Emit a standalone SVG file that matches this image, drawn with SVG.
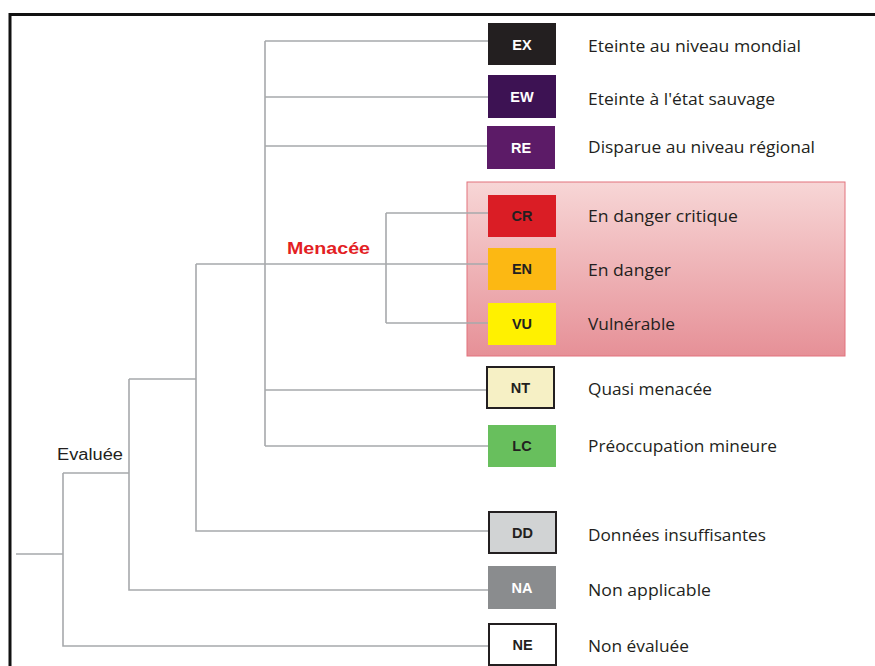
<svg xmlns="http://www.w3.org/2000/svg" width="875" height="666" viewBox="0 0 875 666">
<defs>
<linearGradient id="pink" x1="0" y1="0" x2="0" y2="1">
<stop offset="0" stop-color="#f7d6d6"/>
<stop offset="1" stop-color="#e69097"/>
</linearGradient>
<style>
.ln{stroke:#a7a9ac;stroke-width:1.6;fill:none}
.code{font-family:"Liberation Sans",Arial,sans-serif;font-weight:bold;font-size:14.5px;text-anchor:middle;fill:#231f20}
.w{fill:#ffffff}
.desc{font-family:"Open Sans","Liberation Sans",sans-serif;font-size:15.5px;fill:#231f20}
.bx{stroke:#231f20;stroke-width:2}
</style>
</defs>
<rect x="0" y="0" width="875" height="666" fill="#ffffff"/>
<rect x="10" y="14.5" width="880" height="670" fill="none" stroke="#111111" stroke-width="3"/>
<rect x="467" y="182" width="378" height="174" fill="url(#pink)" stroke="#e2727c" stroke-width="1"/>
<g id="connectors">
<path class="ln" d="M265,41 V446 M265,41 H488 M265,97 H488 M265,146 H488 M265,390 H488 M265,446 H488"/>
<path class="ln" d="M196,264 H488 M386,213 V323 M386,213 H488 M386,323 H488"/>
<path class="ln" d="M196,264 V531 H488 M129,379 H196 M129,379 V590 H488 M63,473 H129 M63,473 V646 H488 M16,554 H63"/>
</g>
<text x="287" y="253.5" font-family="Liberation Sans,Arial,sans-serif" font-weight="bold" font-size="16.5px" fill="#e31e24" textLength="83" lengthAdjust="spacingAndGlyphs">Menacée</text>
<text x="57" y="460" font-family="Liberation Sans,Arial,sans-serif" font-size="16px" fill="#231f20" textLength="66" lengthAdjust="spacingAndGlyphs">Evaluée</text>
<g id="EX"><rect x="488" y="23" width="68" height="42" fill="#231f20"/><text class="code w" x="522" y="49.5">EX</text><text class="desc" x="588" y="52" textLength="213" lengthAdjust="spacingAndGlyphs">Eteinte au niveau mondial</text></g>
<g id="EW"><rect x="488" y="75" width="68" height="43" fill="#3d1253"/><text class="code w" x="522" y="101.5">EW</text><text class="desc" x="588" y="105" textLength="187" lengthAdjust="spacingAndGlyphs">Eteinte à l'état sauvage</text></g>
<g id="RE"><rect x="487" y="126" width="68" height="43" fill="#5c1b67"/><text class="code w" x="521" y="152.5">RE</text><text class="desc" x="588" y="153" textLength="227" lengthAdjust="spacingAndGlyphs">Disparue au niveau régional</text></g>
<g id="CR"><rect x="488" y="195" width="68" height="42" fill="#da1d25"/><text class="code" x="522" y="221">CR</text><text class="desc" x="588" y="222" textLength="150" lengthAdjust="spacingAndGlyphs">En danger critique</text></g>
<g id="EN"><rect x="488" y="248" width="68" height="42" fill="#fcb813"/><text class="code" x="522" y="274">EN</text><text class="desc" x="588" y="276" textLength="83" lengthAdjust="spacingAndGlyphs">En danger</text></g>
<g id="VU"><rect x="488" y="303" width="68" height="42" fill="#fff100"/><text class="code" x="522" y="329">VU</text><text class="desc" x="588" y="330" textLength="87" lengthAdjust="spacingAndGlyphs">Vulnérable</text></g>
<g id="NT"><rect class="bx" x="487" y="367" width="67" height="41" fill="#f6f0c5"/><text class="code" x="520.5" y="392.5">NT</text><text class="desc" x="588" y="395" textLength="124" lengthAdjust="spacingAndGlyphs">Quasi menacée</text></g>
<g id="LC"><rect x="488" y="425" width="68" height="42" fill="#68bf5d"/><text class="code" x="522" y="451">LC</text><text class="desc" x="588" y="452" textLength="189" lengthAdjust="spacingAndGlyphs">Préoccupation mineure</text></g>
<g id="DD"><rect class="bx" x="489" y="512" width="67" height="41" fill="#d1d3d4"/><text class="code" x="522.5" y="537.5">DD</text><text class="desc" x="588" y="541" textLength="178" lengthAdjust="spacingAndGlyphs">Données insuffisantes</text></g>
<g id="NA"><rect x="488" y="566" width="68" height="43" fill="#8a8c8e"/><text class="code w" x="522" y="592.5">NA</text><text class="desc" x="588" y="596" textLength="123" lengthAdjust="spacingAndGlyphs">Non applicable</text></g>
<g id="NE"><rect class="bx" x="489" y="624" width="67" height="41" fill="#ffffff"/><text class="code" x="522.5" y="649.5">NE</text><text class="desc" x="588" y="652" textLength="101" lengthAdjust="spacingAndGlyphs">Non évaluée</text></g>
</svg>
